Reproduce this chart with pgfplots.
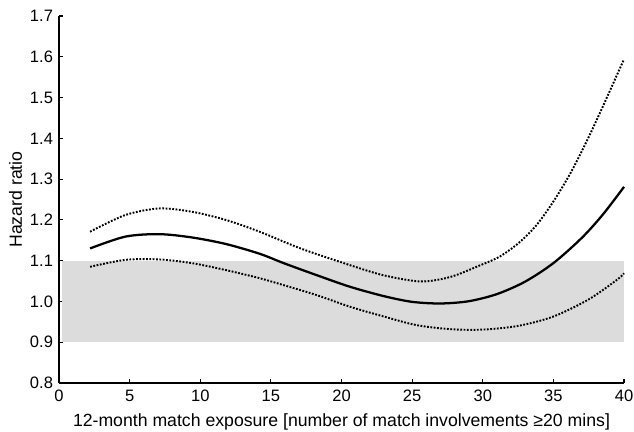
\documentclass[border=0pt]{standalone}
\usepackage{pgfplots}
\pgfplotsset{compat=1.18}
\usepackage{fontspec}
\setmainfont{Liberation Sans}
\definecolor{bandgray}{RGB}{220,220,220}
\begin{document}
\begin{tikzpicture}
\begin{axis}[
  scale only axis,
  width=423.75pt, height=275.25pt,
  xmin=0, xmax=40, ymin=0.8, ymax=1.7,
  axis lines*=left,
  axis line style={line width=0.8pt},
  tick style={line width=0.8pt, black},
  tick align=inside,
  major tick length=3pt,
  xtick={0,5,...,40},
  ytick={0.8,0.9,...,1.71},
  /pgf/number format/assume math mode=true,
  tick label style={font=\fontsize{12.4}{14}\selectfont},
  xticklabel style={yshift=-1.5pt},
  yticklabel style={xshift=-1pt, /pgf/number format/.cd, fixed, fixed zerofill, precision=1},
  label style={font=\fontsize{13.25}{15}\selectfont},
  xlabel={12-month match exposure [number of match involvements ≥20 mins]},
  ylabel={Hazard ratio},
  xlabel style={yshift=-2pt},
  ylabel style={yshift=-1pt},
  clip=false,
]
\addplot[draw=none, fill=bandgray, forget plot] coordinates {(0.2,0.9) (40,0.9) (40,1.1) (0.2,1.1)} -- cycle;
\addplot[black, line width=1.7pt, smooth] coordinates {
(2.2,1.130)(4.7,1.159)(7.1,1.165)(9.4,1.157)(11.8,1.141)(14.2,1.117)(15.9,1.094)(18.2,1.065)(20.6,1.036)(23,1.013)(25,0.999)(27,0.995)(29,1.0005)(31,1.018)(33,1.0486)(35,1.094)(37,1.1555)(38.5,1.213)(40,1.281)};
\addplot[black, line width=1.45pt, dash pattern=on 1.35pt off 1.15pt, smooth] coordinates {
(2.2,1.171)(4.7,1.212)(7.1,1.228)(9.4,1.220)(11.8,1.200)(14.2,1.171)(17.1,1.130)(20.6,1.089)(23,1.064)(25.6,1.049)(27.7,1.060)(29.7,1.087)(31.2,1.110)(32.6,1.145)(33.8,1.187)(35,1.245)(36.2,1.314)(37.4,1.396)(38.5,1.478)(40,1.594)};
\addplot[black, line width=1.45pt, dash pattern=on 1.35pt off 1.15pt, smooth] coordinates {
(2.2,1.085)(4.7,1.102)(7.1,1.103)(9.4,1.094)(11.8,1.077)(14.2,1.057)(15.9,1.040)(18.2,1.016)(20.6,0.987)(23,0.963)(25.3,0.942)(27.7,0.932)(30,0.931)(32.5,0.940)(35,0.963)(37.5,1.005)(39.5,1.053)(40,1.069)};
\end{axis}
\pgfresetboundingbox
\path (-44.25pt,-36pt) rectangle (431.25pt,287.25pt);
\end{tikzpicture}
\end{document}
